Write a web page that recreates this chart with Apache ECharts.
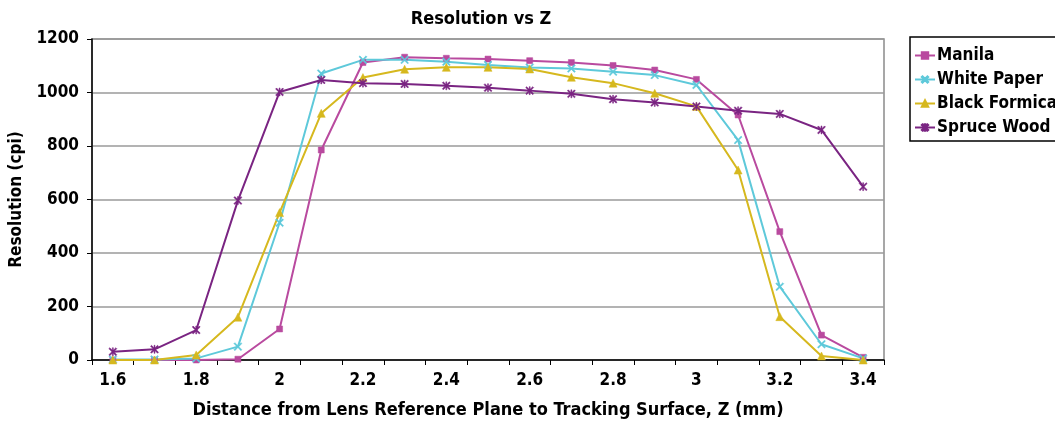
<!DOCTYPE html>
<html><head><meta charset="utf-8">
<script src="https://cdn.jsdelivr.net/npm/echarts@6/dist/echarts.min.js"></script>
<style>html,body{margin:0;padding:0;background:#fff}#c{width:1055px;height:426px}</style>
</head><body><div id="c"></div>
<script>
const categories = ['1.6','1.7','1.8','1.9','2','2.1','2.2','2.3','2.4','2.5','2.6','2.7','2.8','2.9','3','3.1','3.2','3.3','3.4'];
const manila = [0,0,0,3,116,785,1112,1132,1128,1125,1119,1112,1101,1084,1049,916,480,93,10];
const whitePaper = [2,2,6,50,513,1071,1122,1122,1115,1103,1093,1090,1078,1065,1028,822,274,59,6];
const blackFormica = [0,0,19,160,551,922,1056,1087,1094,1094,1088,1057,1035,997,948,710,162,15,0];
const spruceWood = [31,40,112,596,1002,1047,1035,1032,1025,1018,1007,995,975,963,948,932,920,860,648];
const yTicks = [0,200,400,600,800,1000,1200];

const FONT = "'DejaVu Sans Condensed','Liberation Sans Narrow',sans-serif";
const NARROW = "'Liberation Sans Narrow','DejaVu Sans Condensed',sans-serif";
const xSym = 'path://M0,1.2 L1.2,0 L5,3.8 L8.8,0 L10,1.2 L6.2,5 L10,8.8 L8.8,10 L5,6.2 L1.2,10 L0,8.8 L3.8,5 Z';
const starSym = 'path://M0,1.2 L1.2,0 L5,3.8 L8.8,0 L10,1.2 L6.2,5 L10,8.8 L8.8,10 L5,6.2 L1.2,10 L0,8.8 L3.8,5 Z M4.4,0 L5.6,0 L5.6,10 L4.4,10 Z';

function mk(name, data, color, symbol, size){
  return {name, type:'line', data, symbol, symbolSize:size, showSymbol:true,
    lineStyle:{color, width:2}, itemStyle:{color, borderColor:color, borderWidth:0.5},
    emphasis:{disabled:true}, animation:false};
}
const chart = echarts.init(document.getElementById('c'));
chart.setOption({
  animation:false,
  title:{text:'Resolution vs Z', left:476, top:5, textAlign:'center',
    textStyle:{fontFamily:NARROW, fontWeight:'bold', fontSize:18, color:'#000'}},
  grid:{left:92, right:171, top:39, bottom:66, show:true, borderColor:'#8a8a8a', borderWidth:1.5,
    containLabel:false, outerBoundsMode:'none'},
  legend:{orient:'vertical', left:910, top:37, padding:[10,60,5,4], itemGap:7,
    borderColor:'#000', borderWidth:1.5, itemWidth:20, itemHeight:8,
    textStyle:{fontFamily:FONT, fontWeight:'bold', fontSize:17, color:'#000', padding:[0,0,0,-3]},
    data:['Manila','White Paper','Black Formica','Spruce Wood']},
  xAxis:{type:'category', data:categories, boundaryGap:true,
    name:'Distance from Lens Reference Plane to Tracking Surface, Z (mm)',
    nameLocation:'middle', nameGap:41,
    nameTextStyle:{fontFamily:FONT, fontWeight:'bold', fontSize:18, color:'#000'},
    axisLine:{lineStyle:{color:'#000', width:1.5}},
    axisTick:{show:true, interval:0, length:5, lineStyle:{color:'#000'}},
    axisLabel:{interval:1, margin:12, fontFamily:FONT, fontWeight:'bold', fontSize:17, color:'#000'},
    splitLine:{show:false}},
  yAxis:{type:'value', min:yTicks[0], max:yTicks[yTicks.length-1], interval:200,
    name:'Resolution (cpi)', nameLocation:'middle', nameGap:61,
    nameTextStyle:{fontFamily:FONT, fontWeight:'bold', fontSize:17, color:'#000'},
    axisLine:{show:true, lineStyle:{color:'#000', width:1.5}},
    axisTick:{show:true, length:5, lineStyle:{color:'#000'}},
    axisLabel:{margin:13, fontFamily:FONT, fontWeight:'bold', fontSize:17, color:'#000',
      formatter: v => String(v)},
    splitLine:{lineStyle:{color:'#9a9a9a', width:1.5}}},
  series:[
    mk('Manila', manila, '#b94a9f', 'rect', 6),
    mk('White Paper', whitePaper, '#5ec9da', xSym, 8),
    mk('Black Formica', blackFormica, '#d6b81e', 'triangle', 8),
    mk('Spruce Wood', spruceWood, '#7a2482', starSym, 8)
  ]
});
</script></body></html>
